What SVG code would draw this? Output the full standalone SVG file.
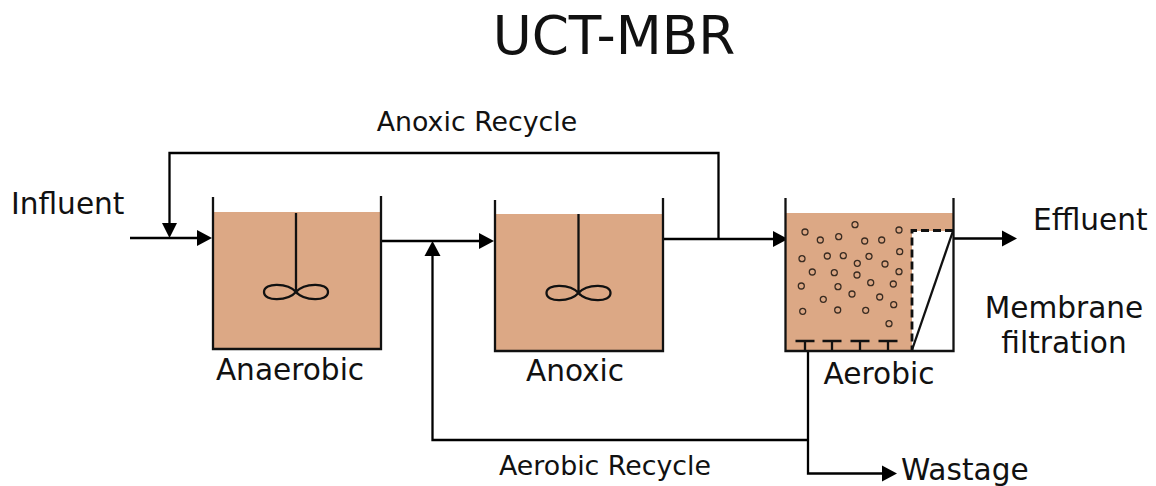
<svg xmlns="http://www.w3.org/2000/svg" width="1156" height="486" viewBox="0 0 1156 486">
<style>
text{font-family:"DejaVu Sans",sans-serif;fill:#111}
.l{font-size:29.600px}
.s{font-size:26.800px}
.w{fill:#dca885;stroke:none}
.t{fill:none;stroke:#111;stroke-width:2.300}
.c{fill:none;stroke:#000;stroke-width:2.300}
.b{fill:none;stroke:#3a2c22;stroke-width:1.300}
.a{fill:#000;stroke:none}
</style>
<defs>
<g id="mixer"><path class="t" d="M0,-79V0C-8,-9 -32,-10 -32,0C-32,10 -8,9 0,0C8,-9 32,-10 32,0C32,10 8,9 0,0"/></g>
<path id="ar" class="a" d="M-15,-8L0,0L-15,8Z"/>
<circle id="bu" class="b" r="3"/>
<path id="di" class="t" d="M-9.500,0H9.500M0,0V9"/>
</defs>
<text x="614" y="54" font-size="53.300" text-anchor="middle">UCT-MBR</text>
<g id="connectors">
<path class="c" d="M130,238H200M381,241H482M663,239H775M169.500,226V153H718.500V239M954,238.500H1005M432.500,254V440H808M808,351V473.500H885"/>
<use href="#ar" x="212" y="238"/>
<path class="a" d="M162,223H177L169.500,238Z"/>
<use href="#ar" x="494" y="241"/>
<path class="a" d="M424.500,256H440.500L432.500,241Z"/>
<use href="#ar" x="788" y="239"/>
<use href="#ar" x="1017" y="238.500"/>
<use href="#ar" x="897" y="473.500"/>
</g>
<g id="anaerobic">
<rect class="w" x="213" y="212" width="168" height="137"/>
<path class="t" d="M213,197V349H381V196"/>
<use href="#mixer" x="296" y="292"/>
<text class="l" x="290" y="380" text-anchor="middle">Anaerobic</text>
</g>
<g id="anoxic">
<rect class="w" x="495" y="214" width="168" height="137"/>
<path class="t" d="M495,200V351H663V198"/>
<use href="#mixer" x="578.500" y="293"/>
<text class="l" x="575" y="381" text-anchor="middle">Anoxic</text>
</g>
<g id="aerobic">
<rect class="w" x="786" y="213" width="167" height="138"/>
<path fill="#fff" d="M912,231H953V351H912Z"/>
<path class="t" d="M785.500,198V351H953.500V198"/>
<path class="t" style="stroke-width:2.800" stroke-dasharray="8 4" d="M953,230.500H912V350"/>
<path class="t" d="M912,350L953,231"/>
<use href="#di" x="805" y="341"/>
<use href="#di" x="832" y="341"/>
<use href="#di" x="860" y="341"/>
<use href="#di" x="888" y="341"/>
<use href="#bu" x="805" y="232"/><use href="#bu" x="820.300" y="240"/><use href="#bu" x="838.700" y="236.700"/><use href="#bu" x="855" y="224.700"/><use href="#bu" x="864.700" y="241"/><use href="#bu" x="881.700" y="240"/><use href="#bu" x="899" y="230"/>
<use href="#bu" x="802" y="258.700"/><use href="#bu" x="827.300" y="256"/><use href="#bu" x="843.300" y="255.700"/><use href="#bu" x="869" y="256.300"/><use href="#bu" x="857.300" y="263.300"/><use href="#bu" x="885" y="264"/><use href="#bu" x="899.700" y="251.700"/>
<use href="#bu" x="812.300" y="272"/><use href="#bu" x="834.300" y="272.700"/><use href="#bu" x="857" y="275"/><use href="#bu" x="899" y="271.700"/>
<use href="#bu" x="801.300" y="286"/><use href="#bu" x="838" y="286.700"/><use href="#bu" x="870.700" y="282.700"/><use href="#bu" x="893.300" y="284"/>
<use href="#bu" x="823.300" y="299.300"/><use href="#bu" x="852" y="294"/><use href="#bu" x="879.700" y="297"/><use href="#bu" x="893.700" y="304.700"/>
<use href="#bu" x="802.700" y="311.300"/><use href="#bu" x="837.700" y="310"/><use href="#bu" x="865.700" y="310.300"/><use href="#bu" x="889" y="323.700"/>
<text class="l" x="879" y="384" text-anchor="middle">Aerobic</text>
</g>
<text class="l" x="11" y="214">Influent</text>
<text class="l" x="1033" y="230">Effluent</text>
<text class="l" x="1064" y="318" text-anchor="middle">Membrane</text>
<text class="l" x="1064" y="353" text-anchor="middle">filtration</text>
<text class="l" x="901" y="479.500">Wastage</text>
<text class="s" x="477" y="131" text-anchor="middle">Anoxic Recycle</text>
<text class="s" x="605" y="475" text-anchor="middle">Aerobic Recycle</text>
</svg>
